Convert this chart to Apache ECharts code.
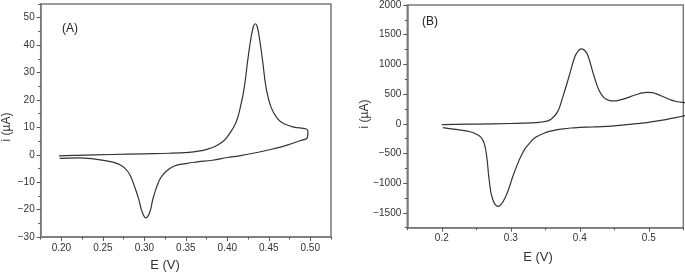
<!DOCTYPE html>
<html>
<head>
<meta charset="utf-8">
<script src="https://cdn.jsdelivr.net/npm/echarts@6/dist/echarts.min.js"></script>
<style>
  html, body { margin: 0; padding: 0; background: #fff; }
  #main { width: 685px; height: 275px; }
</style>
</head>
<body>
<div id="main"></div>
<script>
// panel A: E (V) / i (uA), one loop, forward scan then reverse
var aE = [0.197, 0.22, 0.26, 0.30, 0.33, 0.3537, 0.365, 0.374, 0.385, 0.3955, 0.4022, 0.4103, 0.4156, 0.4204,
  0.4245, 0.4286, 0.4315, 0.4338, 0.436, 0.4386, 0.4426, 0.4468, 0.4529, 0.461, 0.4691, 0.48, 0.4953,
  0.4972, 0.4965,
  0.4872, 0.472, 0.4548, 0.4386, 0.4144, 0.40, 0.382, 0.3638, 0.35, 0.3355, 0.3254, 0.3195, 0.3145, 0.31,
  0.3065, 0.302, 0.2975, 0.293, 0.288, 0.2825, 0.276, 0.2688, 0.2607, 0.2405, 0.2203, 0.198];
var aI = [-0.4, -0.2, 0.1, 0.35, 0.55, 0.9, 1.3, 1.9, 3.0, 5.0, 7.5, 11.7, 17.2, 24.4,
  34.2, 42.7, 46.8, 47.8, 46.8, 42.7, 34.2, 24.4, 17.2, 13, 11.2, 10.1, 9.4,
  8.4, 6.3,
  5.1, 3.5, 2.1, 1.0, -0.4, -1.0, -2.0, -2.6, -3.2, -4.2, -6.3, -8.5, -12, -16.5,
  -21, -23, -21, -16, -11.5, -7.3, -4.8, -3.4, -2.6, -1.6, -1.1, -1.3];

// panel B: forward and reverse scan (both run past the right edge)
var bFwdE = [0.20, 0.25, 0.30, 0.33, 0.3435, 0.352, 0.3581, 0.3677, 0.3745, 0.3845, 0.3925, 0.3975, 0.4025,
  0.4075, 0.412, 0.4207, 0.428, 0.435, 0.442, 0.45, 0.4544, 0.464, 0.4736, 0.486,
  0.4977, 0.505, 0.512, 0.522, 0.5315, 0.54, 0.5484, 0.56];
var bFwdI = [-15, -5, 5, 15, 28, 45, 75, 200, 420, 800, 1120, 1225, 1260,
  1230, 1140, 800, 560, 440, 395, 385, 390, 420, 458, 505,
  530, 525, 500, 450, 405, 375, 360, 355];
var bRevE = [0.56, 0.5484, 0.535, 0.52, 0.50, 0.4834, 0.45, 0.42, 0.40, 0.387, 0.375, 0.3629, 0.35, 0.3365,
  0.3292, 0.318, 0.305, 0.292, 0.2815, 0.2737, 0.2688, 0.2652, 0.2615, 0.2568, 0.25, 0.2424, 0.22, 0.2014];
var bRevI = [150, 127, 95, 60, 25, 3, -35, -52, -62, -71, -88, -112, -150, -224,
  -300, -470, -820, -1240, -1390, -1270, -960, -560, -330, -230, -175, -139, -95, -65];

// ticks
var aXTicks = [0.20, 0.25, 0.30, 0.35, 0.40, 0.45, 0.50];
var aXMinor = [0.175, 0.225, 0.275, 0.325, 0.375, 0.425, 0.475, 0.525];
var aYTicks = [-30, -20, -10, 0, 10, 20, 30, 40, 50];
var aYMinor = [-25, -15, -5, 5, 15, 25, 35, 45, 55];
var bXTicks = [0.2, 0.3, 0.4, 0.5];
var bXMinor = [0.15, 0.25, 0.35, 0.45, 0.55];
var bYTicks = [-1500, -1000, -500, 0, 500, 1000, 1500, 2000];
var bYMinor = [-1750, -1250, -750, -250, 250, 750, 1250, 1750];

function zip(xs, ys) { return xs.map(function (x, i) { return [x, ys[i]]; }); }

var frame = '#7a7a7a';
var font = 'Liberation Sans, Arial, sans-serif';

function mainAxis(gi, min, max, ticks, fmt, extra) {
  return Object.assign({
    type: 'value', gridIndex: gi, min: min, max: max, splitLine: {show: false},
    axisLine: {show: true, onZero: false, lineStyle: {color: frame, width: 1.5}},
    axisTick: {show: true, inside: false, length: 4, customValues: ticks, lineStyle: {color: '#555'}},
    axisLabel: {show: true, customValues: ticks, margin: 6, color: '#333', fontSize: 10, fontFamily: font, formatter: fmt}
  }, extra);
}
function minorAxis(gi, min, max, ticks, extra) {
  return Object.assign({
    type: 'value', gridIndex: gi, min: min, max: max, splitLine: {show: false},
    axisLine: {show: false, onZero: false},
    axisTick: {show: true, inside: false, length: 2.5, customValues: ticks, lineStyle: {color: '#555'}},
    axisLabel: {show: false}
  }, extra);
}
function minusFmt(v) { return String(v).replace('-', '\u2212'); }

var lineStyle = {color: '#333', width: 1.2};

var myChart = echarts.init(document.getElementById('main'));
myChart.setOption({
  backgroundColor: '#fff',
  animation: false,
  grid: [
    {left: 40.7, top: 4, width: 290.3, height: 233, show: true, borderColor: frame, borderWidth: 1.5},
    {left: 407.3, top: 5, width: 276, height: 222.7, show: true, borderColor: frame, borderWidth: 1.5}
  ],
  xAxis: [
    mainAxis(0, 0.175, 0.525, aXTicks, function (v) { return v.toFixed(2); }, {position: 'bottom'}),
    minorAxis(0, 0.175, 0.525, aXMinor, {position: 'bottom'}),
    mainAxis(1, 0.15, 0.55, bXTicks, function (v) { return v.toFixed(1); }, {position: 'bottom'}),
    minorAxis(1, 0.15, 0.55, bXMinor, {position: 'bottom'})
  ],
  yAxis: [
    mainAxis(0, -30, 55, aYTicks, minusFmt, {position: 'left'}),
    minorAxis(0, -30, 55, aYMinor, {position: 'left'}),
    mainAxis(1, -1750, 2000, bYTicks, minusFmt, {position: 'left'}),
    minorAxis(1, -1750, 2000, bYMinor, {position: 'left'})
  ],
  series: [
    {type: 'line', xAxisIndex: 0, yAxisIndex: 0, data: zip(aE, aI), smooth: 0.45, showSymbol: false, lineStyle: lineStyle, clip: true},
    {type: 'line', xAxisIndex: 2, yAxisIndex: 2, data: zip(bFwdE, bFwdI), smooth: 0.45, showSymbol: false, lineStyle: lineStyle, clip: true},
    {type: 'line', xAxisIndex: 2, yAxisIndex: 2, data: zip(bRevE, bRevI), smooth: 0.45, showSymbol: false, lineStyle: lineStyle, clip: true}
  ],
  graphic: [
    {type: 'text', x: 70, y: 29, style: {text: '(A)', fontSize: 12, fontFamily: font, fill: '#222', textAlign: 'center', textVerticalAlign: 'middle'}},
    {type: 'text', x: 430, y: 22, style: {text: '(B)', fontSize: 12, fontFamily: font, fill: '#222', textAlign: 'center', textVerticalAlign: 'middle'}},
    {type: 'text', x: 165, y: 265, style: {text: 'E (V)', fontSize: 13, fontFamily: font, fill: '#333', textAlign: 'center', textVerticalAlign: 'middle'}},
    {type: 'text', x: 538, y: 257, style: {text: 'E (V)', fontSize: 13, fontFamily: font, fill: '#333', textAlign: 'center', textVerticalAlign: 'middle'}},
    {type: 'text', x: 7, y: 127, rotation: Math.PI / 2, style: {text: 'i (\u00b5A)', fontSize: 12, fontFamily: font, fill: '#333', textAlign: 'center', textVerticalAlign: 'middle'}},
    {type: 'text', x: 365, y: 114, rotation: Math.PI / 2, style: {text: 'i (\u00b5A)', fontSize: 12, fontFamily: font, fill: '#333', textAlign: 'center', textVerticalAlign: 'middle'}}
  ]
});
</script>
</body>
</html>
